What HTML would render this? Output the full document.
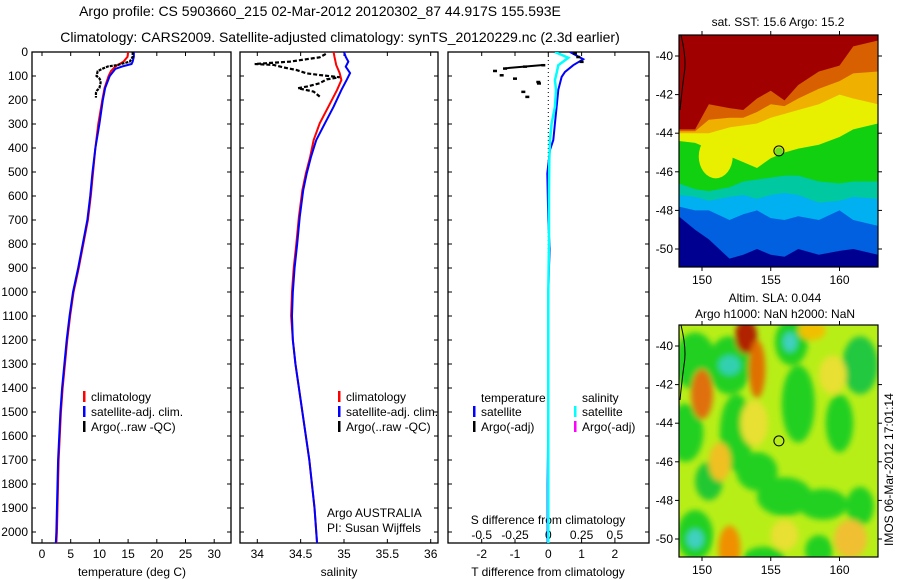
<!DOCTYPE html>
<html><head><meta charset="utf-8"><style>
html,body{margin:0;padding:0;background:#fff}
svg{display:block;font-family:"Liberation Sans",sans-serif}
</style></head><body>
<svg id="fig" width="900" height="580" viewBox="0 0 900 580">
<defs>
<clipPath id="c1"><rect x="32" y="52" width="199" height="491"/></clipPath>
<clipPath id="c2"><rect x="240" y="52" width="198" height="491"/></clipPath>
<clipPath id="c3"><rect x="448" y="52" width="201" height="491"/></clipPath>
<clipPath id="cm1"><rect x="679" y="35" width="199" height="232"/></clipPath>
<clipPath id="cm2"><rect x="679" y="325" width="199" height="232"/></clipPath>
<filter id="bl" x="-50%" y="-50%" width="200%" height="200%"><feGaussianBlur stdDeviation="3"/></filter>
</defs>
<text x="320" y="16" text-anchor="middle" font-size="14">Argo profile: CS 5903660_215 02-Mar-2012 20120302_87 44.917S 155.593E</text>
<text x="340" y="42" text-anchor="middle" font-size="14">Climatology: CARS2009. Satellite-adjusted climatology: synTS_20120229.nc (2.3d earlier)</text>
<g id="root"></g>
</svg>
<script>
// ---------- data ----------
const depthsClim = [0,20,40,60,80,100,150,200,300,400,500,600,700,800,900,1000,1100,1200,1300,1400,1500,1600,1700,1800,1900,2000,2050];
const tempClim   = [15.0,14.9,14.2,12.8,12.0,11.6,10.9,10.5,9.8,9.3,8.9,8.5,8.0,7.2,6.4,5.5,4.9,4.4,4.0,3.6,3.3,3.1,2.9,2.8,2.7,2.6,2.5];
const depthsSat  = [0,20,40,50,60,70,100,150,200,300,400,500,600,700,800,900,1000,1100,1200,1300,1400,1500,1600,1700,1800,1900,2000,2050];
const tempSat    = [16.0,16.0,15.8,15.6,14.0,12.8,11.8,11.0,10.6,10.0,9.3,8.8,8.4,7.9,7.1,6.3,5.4,4.8,4.3,3.9,3.5,3.2,3.0,2.8,2.7,2.6,2.5,2.4];
const depthsArgo = [0,20,40,55,60,70,80,100,110,120,130,150,160,170,190];
const tempArgo   = [15.8,15.8,15.3,13.0,11.5,10.5,9.7,9.5,10.0,10.2,10.2,10.0,9.6,9.4,9.4];

const depthsSalC = [0,20,54,88,117,158,228,297,367,436,506,575,686,800,900,1000,1100,1200,1300,1400,1500,1600,1700,1800,1900,2000,2050];
const salClim    = [34.88,34.89,34.91,34.95,34.97,34.92,34.82,34.72,34.65,34.61,34.56,34.52,34.48,34.45,34.42,34.40,34.39,34.41,34.44,34.48,34.52,34.56,34.60,34.63,34.66,34.68,34.69];
const depthsSalS = [0,20,40,61,88,117,158,228,297,367,436,506,575,686,800,900,1000,1100,1200,1300,1400,1500,1600,1700,1800,1900,2000,2050];
const salSat     = [35.0,35.02,35.05,35.02,35.07,35.03,34.97,34.88,34.78,34.68,34.62,34.57,34.53,34.49,34.46,34.43,34.41,34.40,34.41,34.44,34.48,34.52,34.56,34.60,34.63,34.66,34.68,34.69];
const depthsSalA = [8,22,30,40,50,54,64,75,89,96,105,114,130,144,151,165,186];
const salArgo    = [34.79,34.72,34.57,34.38,33.97,34.19,34.30,34.45,34.57,34.72,34.95,34.80,34.72,34.57,34.47,34.65,34.72];

const depthsDT = [0,15,30,55,83,104,158,228,297,367,408,506,700,820,900,1000,1200,1500,1800,2050];
const dTsat    = [0.65,0.85,1.05,0.75,0.5,0.4,0.3,0.25,0.2,0.15,0.05,-0.03,0.0,0.04,0.02,0.0,0.0,0.0,-0.02,-0.02];
const depthsDS = [0,24,55,88,117,158,228,297,367,450,600,800,1000,1400,1800,2050];
const dSsat    = [0.05,0.15,0.075,0.0625,0.05,0.058,0.05,0.025,0.0125,0.0075,0.005,0.005,0.0,0.0,0.0,0.0];
const depthsDTA = [5,20,40,54,60,68,78,96,110,124,130,165,186];
const dTargo    = [0.8,0.9,1.0,-0.15,-0.7,-1.3,-1.6,-1.4,-1.0,-0.3,-0.28,-0.75,-0.63];

const depthTicks = [0,100,200,300,400,500,600,700,800,900,1000,1100,1200,1300,1400,1500,1600,1700,1800,1900,2000];
const tempTicks = [0,5,10,15,20,25,30];
const salTicks = [34,34.5,35,35.5,36];
const salTickLabels = ["34","34.5","35","35.5","36"];
const dTTicks = [-2,-1,0,1,2];
const dSTicks = [-0.5,-0.25,0,0.25,0.5];
const lonTicks = [150,155,160];
const latTicks = [-40,-42,-44,-46,-48,-50];
const argoLon = 155.593, argoLat = -44.917;

// ---------- scales ----------
const NS="http://www.w3.org/2000/svg";
const root=document.getElementById('root');
const yD = d => 52 + d*0.24;
const xT = t => 42 + t*5.74;
const xS = s => 257.3 + (s-34)*86.7;
const xDT = t => 548.3 + t*33.3;
const xDS = s => 548.3 + s*4*33.3;
const xLon = l => 702 + (l-150)*13.75;
const yLat1 = la => 56 + (-40-la)*19.3;
const yLat2 = la => 346 + (-40-la)*19.3;

function el(tag, attrs, parent){const e=document.createElementNS(NS,tag);for(const k in attrs)e.setAttribute(k,attrs[k]);(parent||root).appendChild(e);return e;}
function txt(x,y,s,anchor,size,parent){const t=el('text',{x:x,y:y,'text-anchor':anchor||'middle','font-size':size||12},parent);t.textContent=s;return t;}
function pts(xs,ys,fx,fy){return xs.map((v,i)=>fx(v)+','+fy(ys[i])).join(' ');}

// ---------- profile panels ----------
function panel(x0,w,clip,name){
  const g=el('g',{});
  
  
  const r=el('rect',{x:x0,y:52,width:w,height:491,fill:'none',stroke:'#000','stroke-width':1.3},g);
  
  
  depthTicks.forEach(d=>{
    el('line',{x1:x0,x2:x0+4,y1:yD(d),y2:yD(d),stroke:'#000'},g);
    el('line',{x1:x0+w-4,x2:x0+w,y1:yD(d),y2:yD(d),stroke:'#000'},g);
  });
  return g;
}
const g1=panel(32,199,'c1','temperature-panel');
depthTicks.forEach(d=>{const t=txt(28,yD(d)+4,String(d),'end',12,g1);});
tempTicks.forEach(t=>{
  el('line',{x1:xT(t),x2:xT(t),y1:52,y2:56,stroke:'#000'},g1);
  el('line',{x1:xT(t),x2:xT(t),y1:539,y2:543,stroke:'#000'},g1);
  const l=txt(xT(t),558,String(t),'middle',12,g1);
  
  
});
let at=txt(132,576,'temperature (deg C)','middle',12,g1);


const cg1=el('g',{'clip-path':'url(#c1)'},g1);
let p=el('polyline',{points:pts(tempClim,depthsClim,xT,yD),fill:'none',stroke:'#f00','stroke-width':2},cg1);


p=el('polyline',{points:pts(tempSat,depthsSat,xT,yD),fill:'none',stroke:'#00f','stroke-width':2},cg1);


p=el('polyline',{points:pts(tempArgo,depthsArgo,xT,yD),fill:'none',stroke:'#000','stroke-width':2.2,'stroke-dasharray':'3,1'},cg1);



const g2=panel(240,198,'c2','salinity-panel');
salTicks.forEach((s,i)=>{
  el('line',{x1:xS(s),x2:xS(s),y1:52,y2:56,stroke:'#000'},g2);
  el('line',{x1:xS(s),x2:xS(s),y1:539,y2:543,stroke:'#000'},g2);
  const l=txt(xS(s),558,salTickLabels[i],'middle',12,g2);
  
  
});
at=txt(339,576,'salinity','middle',12,g2);


const cg2=el('g',{'clip-path':'url(#c2)'},g2);
p=el('polyline',{points:pts(salClim,depthsSalC,xS,yD),fill:'none',stroke:'#f00','stroke-width':2},cg2);


p=el('polyline',{points:pts(salSat,depthsSalS,xS,yD),fill:'none',stroke:'#00f','stroke-width':2},cg2);


p=el('polyline',{points:pts(salArgo,depthsSalA,xS,yD),fill:'none',stroke:'#000','stroke-width':2.2,'stroke-dasharray':'4,2'},cg2);


at=txt(327,517,'Argo AUSTRALIA','start',12,g2);


at=txt(327,532,'PI: Susan Wijffels','start',12,g2);



const g3=panel(448,201,'c3','difference-panel');
dTTicks.forEach(t=>{
  el('line',{x1:xDT(t),x2:xDT(t),y1:52,y2:56,stroke:'#000'},g3);
  el('line',{x1:xDT(t),x2:xDT(t),y1:539,y2:543,stroke:'#000'},g3);
  const l=txt(xDT(t),558,String(t),'middle',12,g3);
  
  
});
dSTicks.forEach(s=>{
  const l=txt(xDS(s),539,String(s),'middle',12,g3);
  
  
});
at=txt(548,524,'S difference from climatology','middle',12,g3);


at=txt(548,576,'T difference from climatology','middle',12,g3);


const cg3=el('g',{'clip-path':'url(#c3)'},g3);
el('line',{x1:xDT(0),x2:xDT(0),y1:52,y2:543,stroke:'#000','stroke-width':1,'stroke-dasharray':'1,3'},cg3);
p=el('polyline',{points:pts(dTsat,depthsDT,xDT,yD),fill:'none',stroke:'#00f','stroke-width':2},cg3);


p=el('polyline',{points:pts(dSsat,depthsDS,xDS,yD),fill:'none',stroke:'#0ff','stroke-width':2.5},cg3);


dTargo.forEach((v,i)=>{
  const m=el('rect',{x:xDT(v)-2,y:yD(depthsDTA[i])-1,width:4,height:2.5,fill:'#000'},cg3);
  
  
});
p=el('line',{x1:xDT(dTargo[5]),y1:yD(depthsDTA[5]),x2:xDT(dTargo[3]),y2:yD(depthsDTA[3]),stroke:'#000','stroke-width':2},cg3);



// ---------- legends ----------
function legend(x,y,color,label,name,parent){
  const g=el('g',{},parent);
  
  
  el('rect',{x:x,y:y-6,width:2.5,height:11,fill:color},g);
  txt(x+8,y+4,label,'start',12,g);
}
legend(83,397,'#f00','climatology','legend-entry-climatology',g1);
legend(83,412,'#00f','satellite-adj. clim.','legend-entry-satellite',g1);
legend(83,427,'#000','Argo(..raw -QC)','legend-entry-argo',g1);
legend(338,397,'#f00','climatology','legend-entry-climatology',g2);
legend(338,412,'#00f','satellite-adj. clim.','legend-entry-satellite',g2);
legend(338,427,'#000','Argo(..raw -QC)','legend-entry-argo',g2);
at=txt(481,402,'temperature','start',12,g3);


at=txt(582,402,'salinity','start',12,g3);


legend(473,412,'#00f','satellite','legend-entry-t-satellite',g3);
legend(473,427,'#000','Argo(-adj)','legend-entry-t-argo',g3);
legend(574,412,'#0ff','satellite','legend-entry-s-satellite',g3);
legend(574,427,'#f0f','Argo(-adj)','legend-entry-s-argo',g3);

// ---------- maps ----------
const sstBandColors=['#a00000','#d86000','#f0b000','#e8f000','#10d010','#00c8a0','#00b0f0','#0060e0','#000090'];
const bandLons=[148.3,149.5,150.5,152,153,154,155,156,157,158.5,160,161,162.8];
const sstBounds=[
 [-43.8,-43.8,-42.5,-42.7,-42.8,-42.2,-41.8,-42.3,-41.5,-40.8,-40.5,-39.5,-39.2],
 [-43.9,-43.9,-43.3,-43.2,-43.2,-42.9,-42.5,-42.6,-42.2,-41.7,-41.3,-40.9,-40.8],
 [-44.0,-44.0,-44.0,-43.7,-43.6,-43.5,-43.2,-43.0,-42.8,-42.5,-42.0,-42.2,-42.5],
 [-44.4,-44.5,-44.8,-45.2,-45.5,-45.8,-45.3,-45.0,-44.8,-44.6,-44.2,-43.8,-43.5],
 [-46.6,-46.9,-47.0,-46.8,-46.5,-46.4,-46.3,-46.2,-46.2,-46.5,-46.6,-46.5,-46.5],
 [-47.2,-47.3,-47.5,-47.3,-47.2,-47.4,-47.2,-47.1,-47.2,-47.6,-47.5,-47.3,-47.4],
 [-47.8,-48.0,-48.0,-48.5,-48.2,-48.0,-48.4,-48.5,-48.3,-48.5,-48.0,-48.5,-48.8],
 [-48.3,-49.0,-49.5,-50.5,-50.3,-50.0,-50.3,-50.4,-50.0,-50.3,-50.1,-50.0,-50.3]
];
const slaBlobs=[
 [149.5,-40.8,1.5,1.5,'#20d020'],[152,-41,1.6,1.5,'#20d020'],[152,-41,0.8,0.5,'#30d0b0'],
 [156.5,-39.8,1.2,1.2,'#20d020'],[156.4,-39.8,0.5,0.5,'#40d0c0'],[161.5,-41,1.3,1.5,'#20c840'],
 [148.8,-44.5,1.3,1.5,'#20d020'],[152.5,-44.5,1.2,2,'#20d020'],[157,-43,1.2,2,'#20d020'],
 [160,-44,1,1.5,'#20d020'],[154,-46.5,1.5,1,'#20d020'],[150.5,-47,1,1,'#20c830'],
 [156,-47.8,2,1,'#20d020'],[158.8,-48.2,1.8,0.8,'#20d020'],[161.5,-48.3,1,1,'#20d020'],
 [149.5,-49.8,1.3,1.3,'#20d020'],[149.5,-50,0.6,0.5,'#40d0c0'],[154.5,-51,1.5,0.6,'#20d020'],[158.5,-50.6,1,0.8,'#20d020'],
 [153.2,-39.5,0.8,0.9,'#b02000'],[154,-41.2,0.6,1.5,'#e07000'],[150,-42.5,0.8,1.3,'#e07010'],
 [158,-39.2,1,0.5,'#f0c000'],[151.3,-46,0.8,1,'#f0c020'],[152,-50.5,0.8,1.2,'#f09000'],
 [160.8,-50,1.2,1,'#f0c030'],[159.5,-41.5,1,1,'#e8e030'],[156,-49.8,1,0.8,'#e8e030'],[153.8,-44,1,1.2,'#e8e030']
];

function mapFrame(y0,yLat,clip,name){
  const g=el('g',{});
  
  
  const cg=el('g',{'clip-path':'url('+clip+')'},g);
  return [g,cg];
}
function mapAxes(g,y0,yLat,lonLabelY){
  el('rect',{x:679,y:y0,width:199,height:232,fill:'none',stroke:'#000','stroke-width':1.2},g);
  lonTicks.forEach(l=>{
    el('line',{x1:xLon(l),x2:xLon(l),y1:y0-4,y2:y0,stroke:'#000'},g);
    el('line',{x1:xLon(l),x2:xLon(l),y1:y0+232,y2:y0+236,stroke:'#000'},g);
    const t=txt(xLon(l),lonLabelY,String(l),'middle',12,g);
    
    
  });
  latTicks.forEach(la=>{
    el('line',{x1:675,x2:679,y1:yLat(la),y2:yLat(la),stroke:'#000'},g);
    el('line',{x1:878,x2:882,y1:yLat(la),y2:yLat(la),stroke:'#000'},g);
    const t=txt(673,yLat(la)+4,String(la),'end',12,g);
    
    
  });
  const c=el('circle',{cx:xLon(argoLon),cy:yLat(argoLat),r:5,fill:'none',stroke:'#000','stroke-width':1},g);
  
  
}
function coast(cg,y0){
  const c=el('path',{d:`M681,${y0} Q687,${y0+25} 684,${y0+40} Q682,${y0+55} 680,${y0+75}`,fill:'none',stroke:'#000','stroke-width':1},cg);
  
  
}

// SST map
let [mg1,mc1]=mapFrame(35,yLat1,'#cm1','sst-map');
el('rect',{x:679,y:35,width:199,height:232,fill:sstBandColors[0]},mc1);
sstBounds.forEach((b,i)=>{
  let d='M'+bandLons.map((l,j)=>xLon(l)+','+yLat1(b[j])).join(' L')+' L880,270 L677,270 Z';
  const poly=el('path',{d:d,fill:sstBandColors[i+1]},mc1);
  
  
});
el('ellipse',{cx:xLon(151),cy:yLat1(-45.2),rx:17,ry:22,fill:'#e8f000'},mc1);
el('ellipse',{cx:xLon(155.6),cy:yLat1(-44.95),rx:4,ry:4,fill:'#70e020'},mc1);
coast(mc1,35);
mapAxes(mg1,35,yLat1,284);
at=txt(778,26,'sat. SST: 15.6 Argo: 15.2','middle',12,mg1);



// SLA map
let [mg2,mc2]=mapFrame(325,yLat2,'#cm2','sla-map');
el('rect',{x:679,y:325,width:199,height:232,fill:'#b8ee18'},mc2);
const bg=el('g',{filter:'url(#bl)'},mc2);
slaBlobs.forEach(b=>{
  const e=el('ellipse',{cx:xLon(b[0]),cy:yLat2(b[1]),rx:b[2]*13.75,ry:b[3]*19.3,fill:b[4]},bg);
  
  
});
coast(mc2,325);
mapAxes(mg2,325,yLat2,574);
at=txt(775,302,'Altim. SLA: 0.044','middle',12,mg2);


at=txt(775,318,'Argo h1000: NaN h2000: NaN','middle',12,mg2);


at=txt(0,0,'IMOS 06-Mar-2012 17:01:14','start',12,mg2);
at.setAttribute('transform','translate(893,546) rotate(-90)');


</script>
</body></html>
